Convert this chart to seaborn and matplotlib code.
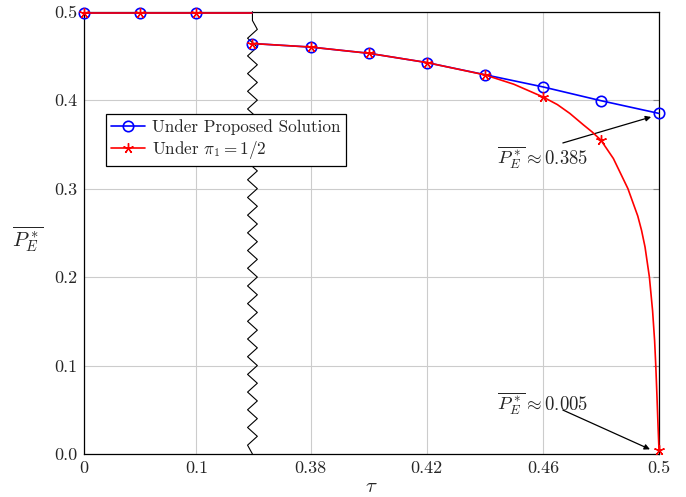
import numpy as np
import matplotlib
matplotlib.use("Agg")
import matplotlib.pyplot as plt
import seaborn as sns

# values
tau_left = [0.0, 0.05, 0.1, 0.15]
pe_left = [0.499, 0.499, 0.499, 0.499]

tau_right = [0.36, 0.38, 0.40, 0.42, 0.44, 0.46, 0.48, 0.50]
pe_proposed = [0.464, 0.4600, 0.453, 0.4425, 0.4288, 0.4150, 0.3994, 0.385]

tau_half = [0.36, 0.38, 0.40, 0.42, 0.44, 0.45, 0.46, 0.465, 0.4693, 0.474,
            0.477, 0.48, 0.4843, 0.4893, 0.4927, 0.4940, 0.4952, 0.4967,
            0.4978, 0.4985, 0.4989, 0.4993, 0.4997, 0.50]
pe_half = [0.464, 0.4600, 0.453, 0.4425, 0.4286, 0.418, 0.4037, 0.395, 0.385,
           0.372, 0.364, 0.3548, 0.334, 0.300, 0.269, 0.2528, 0.234, 0.200,
           0.162, 0.128, 0.100, 0.066, 0.030, 0.005]
half_marks = [0, 1, 2, 3, 4, 6, 11, 23]

xticks = [0, 0.1, 0.38, 0.42, 0.46, 0.5]
xticklabels = ["0", "0.1", "0.38", "0.42", "0.46", "0.5"]
yticks = [0.0, 0.1, 0.2, 0.3, 0.4, 0.5]
yticklabels = ["0.0", "0.1", "0.2", "0.3", "0.4", "0.5"]

sns.set_style("white")
plt.rcParams["font.family"] = ["cmr10", "DejaVu Serif"]
plt.rcParams["mathtext.fontset"] = "cm"
plt.rcParams["axes.unicode_minus"] = False

# broken x axis: [0, 0.15] and [0.36, 0.5] squeezed together
BRK = 0.293


def fwd(t):
    t = np.asarray(t, dtype=float)
    return np.where(t <= 0.15, t / 0.15 * BRK,
                    np.where(t < 0.36, BRK, BRK + (t - 0.36) / 0.14 * (1 - BRK)))


def inv(p):
    p = np.asarray(p, dtype=float)
    return np.where(p <= BRK, p * 0.15 / BRK, 0.36 + (p - BRK) * 0.14 / (1 - BRK))


fig = plt.figure(figsize=(6.86, 4.97), dpi=100)
ax = fig.add_axes([0.1224, 0.0865, 0.8382, 0.89])
ax.set_xscale("function", functions=(fwd, inv))

blue = "#0000ff"
red = "#ff0000"
circ = dict(marker="o", markersize=7.5, markerfacecolor="none",
            markeredgecolor=blue, markeredgewidth=1.2)
star = dict(marker=(5, 2, 0), markersize=7.5, markeredgecolor=red,
            markeredgewidth=1.0)

sns.lineplot(x=tau_left, y=pe_left, ax=ax, color=blue, lw=1.2,
             markevery=[0, 1, 2], clip_on=False, zorder=3, **circ)
sns.lineplot(x=tau_right, y=pe_proposed, ax=ax, color=blue, lw=1.2,
             clip_on=False, zorder=3, label="Under Proposed Solution", **circ)
sns.lineplot(x=tau_left, y=pe_left, ax=ax, color=red, lw=1.2,
             markevery=[0, 1, 2], clip_on=False, zorder=4, **star)
sns.lineplot(x=tau_half, y=pe_half, ax=ax, color=red, lw=1.2,
             markevery=half_marks, clip_on=False, zorder=4,
             label=r"Under $\pi_1 = 1/2$", **star)

# zigzag marking the axis break
trans = matplotlib.transforms.blended_transform_factory(ax.transAxes, ax.transData)
zy = [0.5] + list(np.arange(0.49, -0.0001, -0.01))
zx = [BRK, BRK] + [BRK + (0.0085 if i % 2 == 0 else -0.0085) for i in range(len(zy) - 3)] + [BRK]
ax.plot(zx[:len(zy)], zy, color="black", lw=0.8, transform=trans, zorder=2.5,
        clip_on=False)

ax.set_xlim(0, 0.5)
ax.set_ylim(0, 0.5)
ax.set_xticks(xticks)
ax.set_xticklabels(xticklabels)
ax.set_yticks(yticks)
ax.set_yticklabels(yticklabels)
ax.minorticks_off()
ax.grid(True, color="#cccccc", lw=0.8)
ax.tick_params(direction="in", length=4, width=0.8, color="#888888",
               labelsize=13, pad=5, top=False, right=True)
for s in ax.spines.values():
    s.set_color("black")
    s.set_linewidth(0.9)
    s.set_zorder(2.6)

ax.set_xlabel(r"$\tau$", fontsize=15, labelpad=1)
ax.set_ylabel(r"$\overline{P_E^*}$", fontsize=15, rotation=0, ha="center", va="center")
ax.yaxis.set_label_coords(-0.098, 0.485)

leg = ax.legend(loc="upper left", bbox_to_anchor=(0.038, 0.769), borderaxespad=0,
                fontsize=12.3, fancybox=False, framealpha=1, edgecolor="black",
                handlelength=2.0, handletextpad=0.4, borderpad=0.3, labelspacing=0.25)
leg.get_frame().set_linewidth(0.9)

arrow = dict(arrowstyle="-|>", color="black", lw=0.9, mutation_scale=8,
             shrinkA=0, shrinkB=0)
ax.annotate("", xy=(0.4973, 0.381), xytext=(0.4669, 0.3516), arrowprops=arrow)
ax.text(0.46, 0.336, r"$\overline{P_E^*} \approx 0.385$", fontsize=13.5,
        ha="center", va="center")
ax.annotate("", xy=(0.4969, 0.0053), xytext=(0.4669, 0.0497), arrowprops=arrow)
ax.text(0.46, 0.0577, r"$\overline{P_E^*} \approx 0.005$", fontsize=13.5,
        ha="center", va="center")

fig.savefig("out.png", dpi=100)
